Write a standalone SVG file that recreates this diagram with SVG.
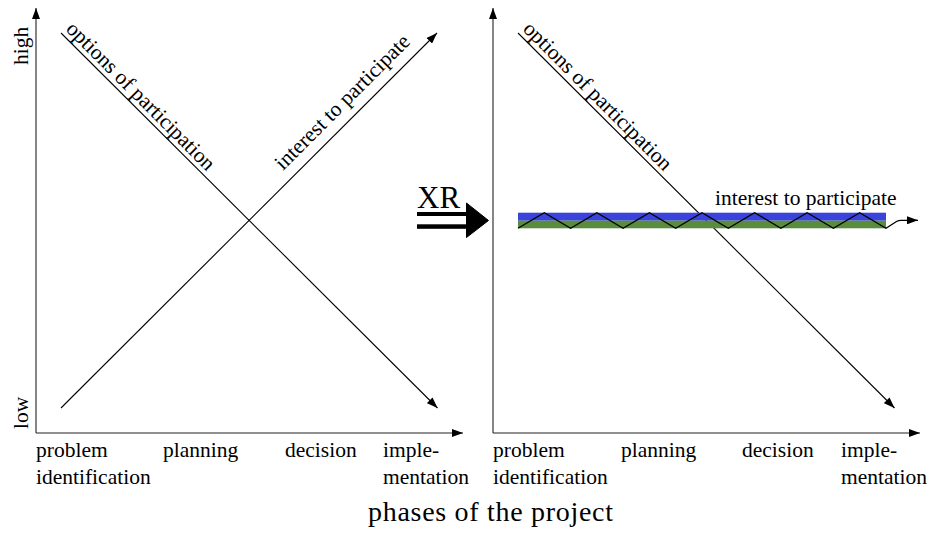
<svg xmlns="http://www.w3.org/2000/svg" width="935" height="536" viewBox="0 0 935 536">
<defs>
<marker id="ah" viewBox="0 0 11 8" refX="11" refY="4" markerWidth="11" markerHeight="8" markerUnits="userSpaceOnUse" orient="auto">
<path d="M0,0 L11,4 L0,8 Z" fill="#000"/>
</marker>
</defs>
<style>
.ax{stroke:#222;stroke-width:1.1;fill:none;marker-end:url(#ah)}
.ln{stroke:#000;stroke-width:1.1;fill:none;marker-end:url(#ah)}
.t{font-family:"Liberation Serif","Times New Roman",serif;font-size:21.5px;fill:#000}
.big{font-family:"Liberation Serif","Times New Roman",serif;font-size:28px;fill:#000}
.xr{font-family:"Liberation Serif","Times New Roman",serif;font-size:31px;fill:#000}
</style>
<rect width="935" height="536" fill="#fff"/>

<g id="left-panel">
  <g id="left-axes">
    <line class="ax" x1="36" y1="433" x2="36" y2="8"/>
    <line class="ax" x1="36" y1="433" x2="463" y2="433"/>
    <text class="t" transform="translate(27.5,65) rotate(-90)">high</text>
    <text class="t" transform="translate(27.5,429) rotate(-90)">low</text>
  </g>
  <g id="left-phases">
    <text class="t" x="36" y="457">problem</text>
    <text class="t" x="36" y="484">identification</text>
    <text class="t" x="163" y="457">planning</text>
    <text class="t" x="285" y="457">decision</text>
    <text class="t" x="383" y="457">imple-</text>
    <text class="t" x="383" y="484">mentation</text>
  </g>
  <g id="left-curves">
    <line class="ln" x1="61" y1="33" x2="437.5" y2="408"/>
    <line class="ln" x1="61" y1="408" x2="437" y2="33"/>
    <text class="t" transform="translate(65,30) rotate(45)">options of participation</text>
    <text class="t" transform="translate(283,171) rotate(-45)">interest to participate</text>
  </g>
</g>

<g id="xr-arrow">
  <text class="xr" x="417" y="208">XR</text>
  <rect x="417" y="212" width="52" height="4" fill="#000"/>
  <rect x="417" y="224.3" width="52" height="4.5" fill="#000"/>
  <path d="M466.5,203 L488.5,220.5 L466.5,237.5 Z" fill="#000" stroke="#000" stroke-width="1" stroke-linejoin="round"/>
</g>

<g id="right-panel">
  <g id="right-axes">
    <line class="ax" x1="493" y1="433" x2="493" y2="8"/>
    <line class="ax" x1="493" y1="433" x2="920" y2="433"/>
  </g>
  <g id="right-phases">
    <text class="t" x="493" y="457">problem</text>
    <text class="t" x="493" y="484">identification</text>
    <text class="t" x="621" y="457">planning</text>
    <text class="t" x="742" y="457">decision</text>
    <text class="t" x="841" y="457">imple-</text>
    <text class="t" x="841" y="484">mentation</text>
  </g>
  <g id="right-curves">
    <line class="ln" x1="518" y1="33" x2="894.5" y2="408"/>
    <text class="t" transform="translate(522,30) rotate(45)">options of participation</text>
    <g id="band">
      <rect x="518" y="212.7" width="368" height="8" fill="#3a44dc"/>
      <rect x="518" y="220.7" width="368" height="7.6" fill="#5a8c3e"/>
      <path d="M518,228.3 L544.3,212.7 L570.6,228.3 L596.9,212.7 L623.1,228.3 L649.4,212.7 L675.7,228.3 L702,212.7 L728.3,228.3 L754.6,212.7 L780.9,228.3 L807.1,212.7 L833.4,228.3 L859.7,212.7 L886,228.3 L896.5,221.5 Q898.5,220.3 901,220.3 L918,220.3" fill="none" stroke="#000" stroke-width="1.3" stroke-linejoin="miter" marker-end="url(#ah)"/>
    </g>
    <text class="t" x="715" y="205">interest to participate</text>
  </g>
</g>

<g id="title">
  <text class="big" x="368" y="521" textLength="245" lengthAdjust="spacing">phases of the project</text>
</g>
</svg>
